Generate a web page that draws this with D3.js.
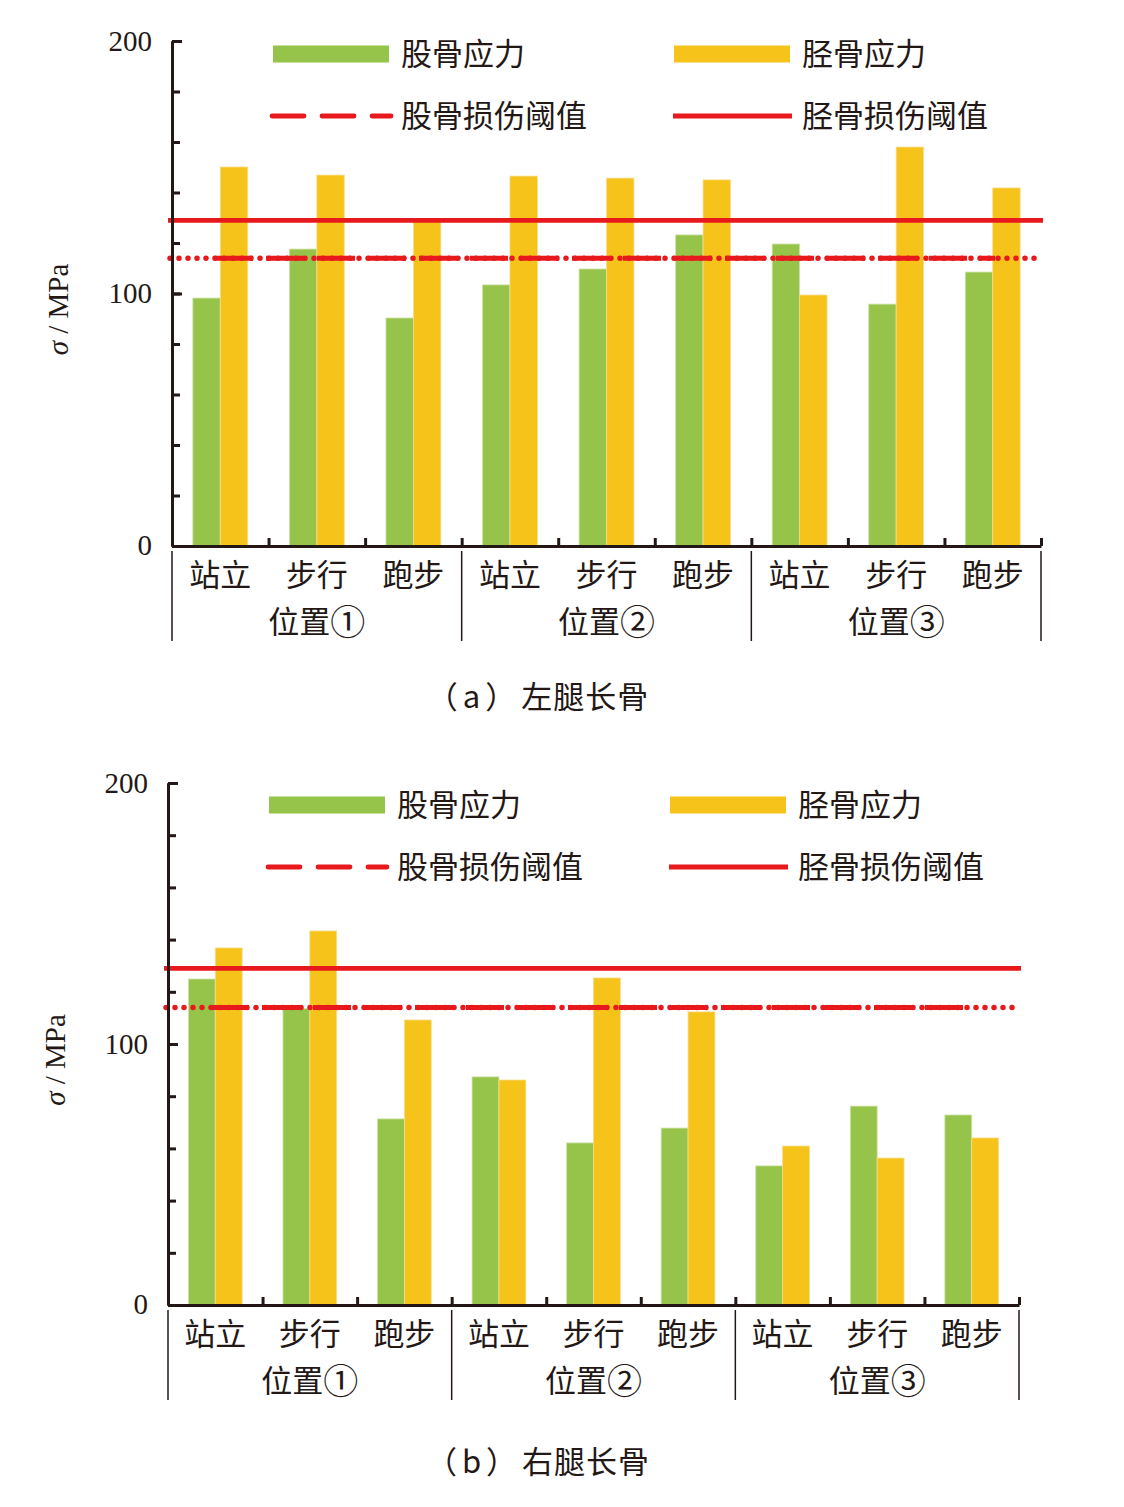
<!DOCTYPE html>
<html>
<head>
<meta charset="utf-8">
<title>长骨应力</title>
<script src="https://d3js.org/d3.v7.min.js"></script>
<style>
    body { margin: 0; background: #fff; }
    text { fill: #231815; }
    .cn { font-family: "Noto Sans CJK SC", sans-serif; font-size: 31px; }
    .num { font-family: "Liberation Serif", serif; font-size: 29px; }
</style>
</head>
<body>
<svg width="1124" height="1507"></svg>
<script>
    // data
    const groups = ["位置", "位置", "位置"];
    const groupMarks = ["①", "②", "③"];
    const motions = ["站立", "步行", "跑步"];
    const femurA = [98.2, 117.6, 90.3, 103.4, 109.7, 123.2, 119.6, 95.8, 108.5];
    const tibiaA = [150.1, 146.9, 129.5, 146.5, 145.7, 145.0, 99.4, 158.0, 141.8];
    const femurB = [124.9, 113.6, 71.3, 87.4, 62.1, 67.8, 53.3, 76.2, 72.8];
    const tibiaB = [136.8, 143.3, 109.2, 86.2, 125.3, 112.3, 60.9, 56.3, 64.0];
    const femurLimit = 114;
    const tibiaLimit = 129;
    const yTicks = [0, 20, 40, 60, 80, 100, 120, 140, 160, 180, 200];
    const yLabels = [0, 100, 200];
    const legendNames = ["股骨应力", "胫骨应力", "股骨损伤阈值", "胫骨损伤阈值"];
    const capTags = ["（a）", "（b）"];
    const captions = ["左腿长骨", "右腿长骨"];

    const green = "#96c44b", yellow = "#f5c31a", red = "#e8191c", ink = "#231815";

    const svg = d3.select("svg");

    const panels = [
        {left: 172, right: 1041, top: 41, bottom: 546, leg: 54, cap: 697, titleX: 58, femur: femurA, tibia: tibiaA},
        {left: 168, right: 1019, top: 783, bottom: 1305, leg: 805, cap: 1462, titleX: 55, femur: femurB, tibia: tibiaB}
    ];

    panels.forEach((p, pi) => {
        const g = svg.append("g");
        const cats = d3.range(groups.length * motions.length);
        const x = d3.scaleBand().domain(cats).range([p.left, p.right]);
        const xs = d3.scaleBand().domain(["f", "t"]).range([0, x.bandwidth()]).paddingOuter(0.76);
        const xb = d3.scaleLinear().domain([0, cats.length]).range([p.left, p.right]);
        const y = d3.scaleLinear().domain([0, 200]).range([p.bottom, p.top]);

        // bars
        const cg = g.selectAll(".cat").data(cats).join("g")
            .attr("transform", d => `translate(${x(d)},0)`);
        cg.append("rect")
            .attr("x", xs("f")).attr("width", xs.bandwidth())
            .attr("y", d => y(p.femur[d])).attr("height", d => y(0) - y(p.femur[d]))
            .attr("fill", green).attr("stroke", "#cfe3a8").attr("stroke-width", 0.8);
        cg.append("rect")
            .attr("x", xs("t")).attr("width", xs.bandwidth())
            .attr("y", d => y(p.tibia[d])).attr("height", d => y(0) - y(p.tibia[d]))
            .attr("fill", yellow).attr("stroke", "#f8dc8a").attr("stroke-width", 0.8);

        // threshold lines
        g.append("line")
            .attr("x1", p.left - 4).attr("x2", p.right + 2)
            .attr("y1", y(tibiaLimit)).attr("y2", y(tibiaLimit))
            .attr("stroke", red).attr("stroke-width", 4.8);
        g.append("line")
            .attr("x1", p.left - 2).attr("x2", p.right - 5)
            .attr("y1", y(femurLimit)).attr("y2", y(femurLimit))
            .attr("stroke", red).attr("stroke-width", 5.5)
            .attr("stroke-linecap", "round").attr("stroke-dasharray", "0 9");
        g.append("line")
            .attr("x1", p.left + 43).attr("x2", p.right - 46)
            .attr("y1", y(femurLimit)).attr("y2", y(femurLimit))
            .attr("stroke", red).attr("stroke-width", 5)
            .attr("stroke-dasharray", "38 13");

        // y axis
        g.append("g").attr("transform", `translate(${p.left},0)`)
            .call(d3.axisRight(y).tickValues(yTicks).tickSize(8).tickSizeOuter(0).tickFormat(""))
            .call(a => a.selectAll("line,path").attr("stroke", ink).attr("stroke-width", 3));
        g.append("g").attr("transform", `translate(${p.left},0)`)
            .call(d3.axisRight(y).tickValues(yLabels).tickSize(10).tickSizeOuter(0).tickFormat(""))
            .call(a => a.selectAll("line,path").attr("stroke", ink).attr("stroke-width", 3));
        g.append("g").attr("transform", `translate(${p.left - 17},0)`)
            .call(d3.axisLeft(y).tickValues(yLabels).tickSize(0))
            .call(a => a.select(".domain").remove())
            .call(a => a.selectAll("text").attr("class", "num").attr("fill", ink)
                .attr("dy", d => d === 0 ? "0.3em" : "0.32em"));

        // x axis
        g.append("g").attr("transform", `translate(0,${p.bottom})`)
            .call(d3.axisTop(xb).tickValues(d3.range(cats.length + 1)).tickSize(8).tickSizeOuter(0).tickFormat(""))
            .call(a => a.selectAll("line,path").attr("stroke", ink).attr("stroke-width", 3));

        // category & group labels
        g.selectAll(".mot").data(cats).join("text")
            .attr("class", "cn").attr("text-anchor", "middle")
            .attr("x", d => x(d) + x.bandwidth() / 2).attr("y", p.bottom + 40)
            .text(d => motions[d % motions.length]);
        const gl = g.selectAll(".grp").data(groups).join("text")
            .attr("class", "cn").attr("text-anchor", "middle")
            .attr("x", (d, i) => xb(i * 3 + 1.5)).attr("y", p.bottom + 87);
        gl.append("tspan").text(d => d);
        gl.append("tspan").attr("font-size", 35).attr("dy", 2).text((d, i) => groupMarks[i]);
        g.selectAll(".sep").data(d3.range(groups.length + 1)).join("line")
            .attr("x1", d => xb(d * 3)).attr("x2", d => xb(d * 3))
            .attr("y1", p.bottom + 5).attr("y2", p.bottom + 95)
            .attr("stroke", ink).attr("stroke-width", 1.5);

        // y title
        const t = g.append("text").attr("class", "num").attr("font-size", 29)
            .attr("text-anchor", "middle")
            .attr("transform", `translate(${p.titleX + 10},${y(100) + 16}) rotate(-90)`);
        t.append("tspan").attr("font-style", "italic").text("σ");
        t.append("tspan").text(" / MPa");

        // legend
        const lx = [p.left + 101, p.left + 502];
        const lg = g.append("g");
        lg.append("rect").attr("x", lx[0]).attr("y", p.leg - 8.5).attr("width", 116).attr("height", 17).attr("fill", green);
        lg.append("rect").attr("x", lx[1]).attr("y", p.leg - 8.5).attr("width", 116).attr("height", 17).attr("fill", yellow);
        lg.append("line").attr("x1", lx[0] - 1).attr("x2", lx[0] + 118)
            .attr("y1", p.leg + 62).attr("y2", p.leg + 62)
            .attr("stroke", red).attr("stroke-width", 4.8)
            .attr("stroke-linecap", "round").attr("stroke-dasharray", "32 18");
        lg.append("line").attr("x1", lx[1] - 1).attr("x2", lx[1] + 118)
            .attr("y1", p.leg + 62).attr("y2", p.leg + 62)
            .attr("stroke", red).attr("stroke-width", 4.8);
        lg.selectAll(".lt").data(legendNames).join("text")
            .attr("class", "cn").attr("font-size", 32)
            .attr("x", (d, i) => lx[i % 2] + 128)
            .attr("y", (d, i) => p.leg + (i < 2 ? 0 : 62))
            .attr("dy", "0.36em")
            .text(d => d);

        // caption
        const cap = g.append("text").attr("class", "cn").attr("text-anchor", "middle")
            .attr("x", 538).attr("y", p.cap).attr("dy", "0.36em");
        cap.append("tspan").attr("letter-spacing", 5).text(capTags[pi]);
        cap.append("tspan").attr("letter-spacing", 1).text(captions[pi]);
    });
</script>
</body>
</html>
